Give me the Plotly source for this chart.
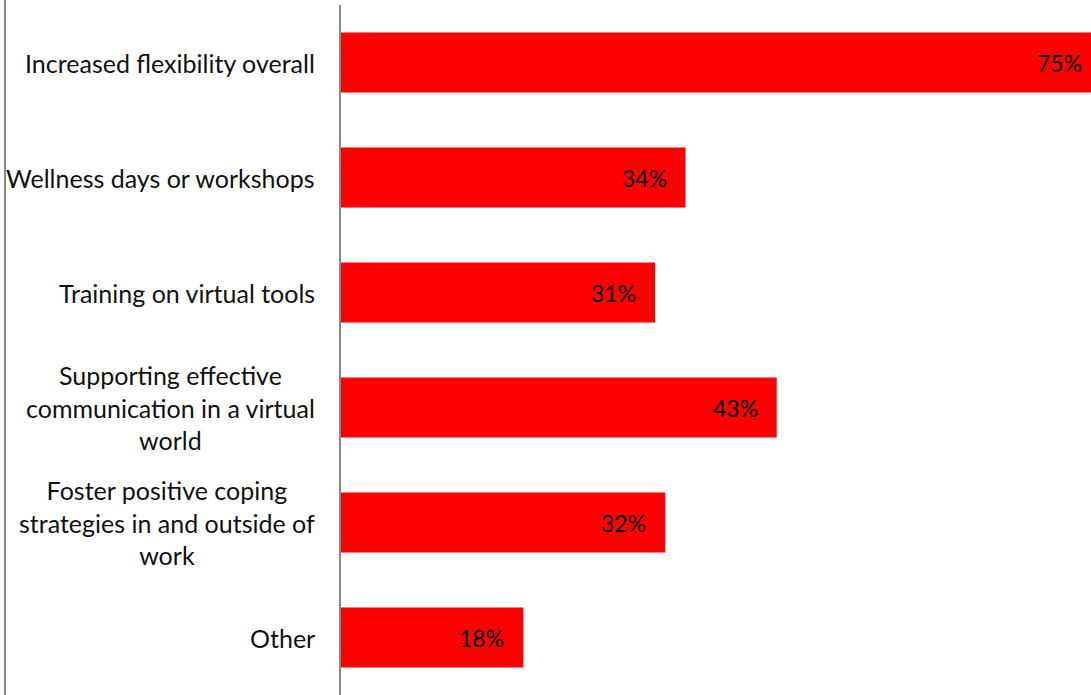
import plotly.graph_objects as go

categories = [
    "Increased flexibility overall",
    "Wellness days or workshops",
    "Training on virtual tools",
    "Supporting effective<br>communication in a virtual<br>world",
    "Foster positive coping<br>strategies in and outside of<br>work",
    "Other",
]
values = [75, 34, 31, 43, 32, 18]
value_labels = [f"{v}%" for v in values]

FONT = "Lato"
BAR_RED = "#FF0000"
AXIS_GREY = "#888888"

fig = go.Figure()

fig.add_trace(go.Bar(
    x=values,
    y=categories,
    orientation="h",
    marker=dict(color=BAR_RED, line=dict(width=0)),
    hoverinfo="skip",
))

annotations = []
# category labels, centred per line, set to the left of the axis
for cat in categories:
    annotations.append(dict(
        x=0, xref="paper", y=cat, yref="y",
        text=cat, showarrow=False, xanchor="right", yanchor="middle",
        align="center", xshift=-24,
        font=dict(family=FONT, size=25, color="#111111"),
    ))
# value labels just inside the bar ends
for cat, v, lab in zip(categories, values, value_labels):
    annotations.append(dict(
        x=v, xref="x", y=cat, yref="y",
        text=lab, showarrow=False, xanchor="right", yanchor="middle",
        xshift=-17,
        font=dict(family=FONT, size=23, color="#000000"),
    ))

fig.update_layout(
    width=1101,
    height=695,
    margin=dict(l=341, r=0, t=5, b=0),
    paper_bgcolor="white",
    plot_bgcolor="white",
    bargap=0.48,
    showlegend=False,
    annotations=annotations,
    shapes=[dict(
        type="line", xref="paper", yref="paper",
        x0=-0.4421, x1=-0.4421, y0=0, y1=1.01,
        line=dict(color=AXIS_GREY, width=2),
    )],
    xaxis=dict(range=[0, 75], visible=False, fixedrange=True),
    yaxis=dict(
        autorange="reversed",
        showticklabels=False,
        showline=True,
        linecolor=AXIS_GREY,
        linewidth=1.5,
        showgrid=False,
        zeroline=False,
        ticks="",
    ),
)

# the chart runs a little past the window's right edge; keep the page from scrolling
fig.write_html(
    "out.html",
    post_script=(
        "document.documentElement.style.overflow='hidden';"
        "document.body.style.overflow='hidden';"
        "document.body.style.margin='0';"
    ),
)
